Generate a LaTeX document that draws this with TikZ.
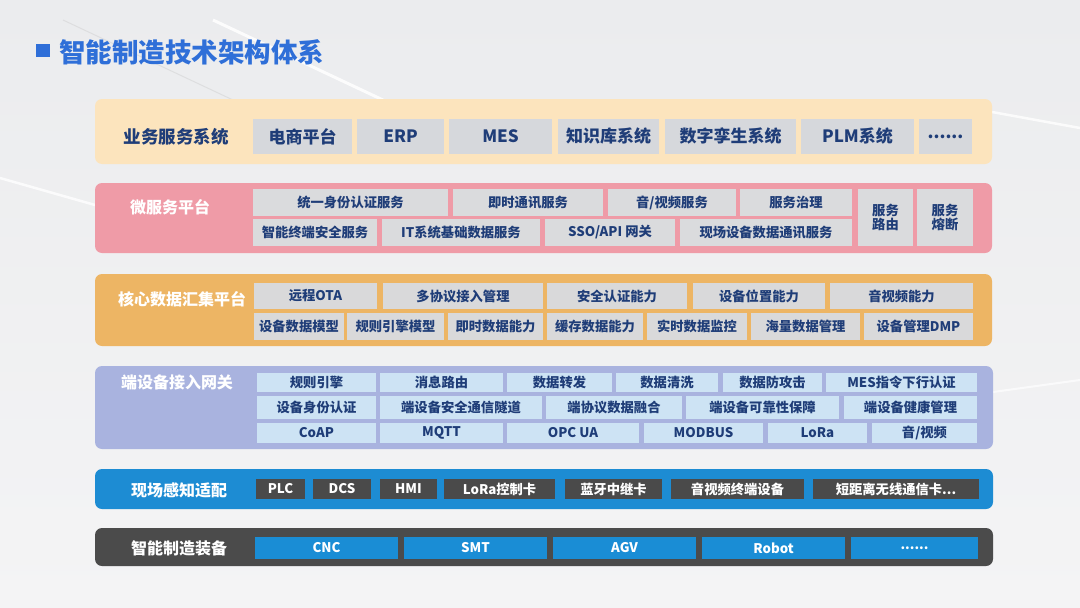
\documentclass[tikz,border=0pt]{standalone}
\usepackage{fontspec}
\setmainfont{Noto Sans CJK SC}
\definecolor{bgtop}{HTML}{EBECEE}
\definecolor{bgbot}{HTML}{F4F4F5}
\definecolor{titleblue}{HTML}{2F6FD8}
\definecolor{navy}{HTML}{1F3D78}
\definecolor{bandA}{HTML}{FCE4BD}
\definecolor{bandB}{HTML}{EF9BA7}
\definecolor{bandC}{HTML}{EDB564}
\definecolor{bandD}{HTML}{A9B3DF}
\definecolor{bandE}{HTML}{1D8CD3}
\definecolor{bandF}{HTML}{4B4B4B}
\definecolor{boxA}{HTML}{D6D8DC}
\definecolor{boxB}{HTML}{DADBDD}
\definecolor{boxC}{HTML}{D9D9DA}
\definecolor{boxD}{HTML}{CDE3F4}
\definecolor{boxE}{HTML}{4A4A4A}
\definecolor{boxF}{HTML}{1A8DD5}
\newcommand\bx[7]{\node[#1,minimum width={(#5-#3)*1pt},minimum height={(#6-#4)*1pt}] (#2) at ({(#3+#5)/2},{(#4+#6)/2}) {#7};}
\begin{document}
\begin{tikzpicture}[x=1pt,y=-1pt,
  band/.style={rounded corners=7pt,inner sep=0pt,outer sep=0pt},
  cell/.style={inner sep=0pt,outer sep=0pt,align=center,font=\bfseries\fontsize{13.3}{14}\selectfont},
  cellA/.style={cell,fill=boxA,text=navy,font=\bfseries\fontsize{17}{18}\selectfont},
  cellB/.style={cell,fill=boxB,text=navy},
  cellC/.style={cell,fill=boxC,text=navy},
  cellD/.style={cell,fill=boxD,text=navy},
  cellE/.style={cell,fill=boxE,text=white},
  cellF/.style={cell,fill=boxF,text=white},
  lab/.style={inner sep=0pt,font=\bfseries\fontsize{16}{17}\selectfont,text=white}]
\useasboundingbox (0,0) rectangle (1080,608);
\shade[top color=bgtop,bottom color=bgbot] (0,0) rectangle (1080,608);
\draw[white,line width=3pt,opacity=.85] (213,20) -- (383,100);
\draw[gray!40,line width=1pt,opacity=.45] (63,20) -- (233,100);
\draw[white,line width=2.5pt,opacity=.8] (0,178) -- (95,205);
\draw[white,line width=2.5pt,opacity=.8] (992,112) -- (1080,128);
\draw[white,line width=2pt,opacity=.7] (993,392) -- (1080,380);
% title
\fill[titleblue] (36,44) rectangle (50,57);
\node[anchor=west,inner sep=0pt,text=titleblue,font=\bfseries\fontsize{26.5}{27}\selectfont] (title) at (59,52) {智能制造技术架构体系};
% band 1
\bx{band,fill=bandA}{B1}{95}{99}{992}{164}{}
\node[lab,text=navy,font=\bfseries\fontsize{17.5}{18}\selectfont] (L1) at (176,137) {业务服务系统};
\bx{cellA}{a1}{253}{119}{352}{154}{电商平台}
\bx{cellA}{a2}{357}{119}{444}{154}{ERP}
\bx{cellA}{a3}{449}{119}{552}{154}{MES}
\bx{cellA}{a4}{558}{119}{659}{154}{知识库系统}
\bx{cellA}{a5}{665}{119}{796}{154}{数字孪生系统}
\bx{cellA}{a6}{801}{119}{914}{154}{PLM系统}
\bx{cellA}{a7}{919}{119}{972}{154}{......}
% band 2
\bx{band,fill=bandB}{B2}{95}{183}{992}{253}{}
\node[lab] (L2) at (170,207) {微服务平台};
\bx{cellB}{b1}{253}{189}{448}{216}{统一身份认证服务}
\bx{cellB}{b2}{453}{189}{603}{216}{即时通讯服务}
\bx{cellB}{b3}{608}{189}{736}{216}{音/视频服务}
\bx{cellB}{b4}{740}{189}{852}{216}{服务治理}
\bx{cellB}{b5}{253}{219}{377}{246}{智能终端安全服务}
\bx{cellB}{b6}{382}{219}{540}{246}{IT系统基础数据服务}
\bx{cellB}{b7}{545}{219}{675}{246}{SSO/API 网关}
\bx{cellB}{b8}{680}{219}{852}{246}{现场设备数据通讯服务}
\bx{cellB}{b9}{858}{189}{913}{246}{服务\\路由}
\bx{cellB}{b10}{917}{189}{973}{246}{服务\\熔断}
% band 3
\bx{band,fill=bandC}{B3}{95}{274}{992}{346}{}
\node[lab] (L3) at (182,299) {核心数据汇集平台};
\bx{cellC}{c1}{254}{283}{377}{309}{远程OTA}
\bx{cellC}{c2}{383}{283}{543}{309}{多协议接入管理}
\bx{cellC}{c3}{547}{283}{687}{309}{安全认证能力}
\bx{cellC}{c4}{693}{283}{825}{309}{设备位置能力}
\bx{cellC}{c5}{830}{283}{973}{309}{音视频能力}
\bx{cellC}{c6}{254}{313}{344}{340}{设备数据模型}
\bx{cellC}{c7}{347}{313}{444}{340}{规则引擎模型}
\bx{cellC}{c8}{448}{313}{543}{340}{即时数据能力}
\bx{cellC}{c9}{547}{313}{643}{340}{缓存数据能力}
\bx{cellC}{c10}{647}{313}{747}{340}{实时数据监控}
\bx{cellC}{c11}{751}{313}{860}{340}{海量数据管理}
\bx{cellC}{c12}{864}{313}{973}{340}{设备管理DMP}
% band 4
\bx{band,fill=bandD}{B4}{95}{366}{993}{449}{}
\node[lab] (L4) at (177,382) {端设备接入网关};
\bx{cellD}{d1}{257}{373}{376}{392}{规则引擎}
\bx{cellD}{d2}{380}{373}{503}{392}{消息路由}
\bx{cellD}{d3}{507}{373}{612}{392}{数据转发}
\bx{cellD}{d4}{616}{373}{718}{392}{数据清洗}
\bx{cellD}{d5}{723}{373}{822}{392}{数据防攻击}
\bx{cellD}{d6}{826}{373}{977}{392}{MES指令下行认证}
\bx{cellD}{d7}{257}{396}{376}{419}{设备身份认证}
\bx{cellD}{d8}{380}{396}{542}{419}{端设备安全通信隧道}
\bx{cellD}{d9}{546}{396}{682}{419}{端协议数据融合}
\bx{cellD}{d10}{686}{396}{839}{419}{端设备可靠性保障}
\bx{cellD}{d11}{844}{396}{977}{419}{端设备健康管理}
\bx{cellD}{d12}{257}{423}{376}{443}{CoAP}
\bx{cellD}{d13}{380}{423}{503}{443}{MQTT}
\bx{cellD}{d14}{507}{423}{639}{443}{OPC UA}
\bx{cellD}{d15}{644}{423}{763}{443}{MODBUS}
\bx{cellD}{d16}{768}{423}{867}{443}{LoRa}
\bx{cellD}{d17}{872}{423}{977}{443}{音/视频}
% band 5
\bx{band,fill=bandE}{B5}{95}{469}{993}{509}{}
\node[lab] (L5) at (179,490) {现场感知适配};
\bx{cellE}{e1}{256}{479}{305}{499}{PLC}
\bx{cellE}{e2}{313}{479}{371}{499}{DCS}
\bx{cellE}{e3}{380}{479}{437}{499}{HMI}
\bx{cellE}{e4}{444}{479}{555}{499}{LoRa控制卡}
\bx{cellE}{e5}{565}{479}{662}{499}{蓝牙中继卡}
\bx{cellE}{e6}{671}{479}{804}{499}{音视频终端设备}
\bx{cellE}{e7}{813}{479}{979}{499}{短距离无线通信卡...}
% band 6
\bx{band,fill=bandF}{B6}{95}{528}{993}{566}{}
\node[lab] (L6) at (179,548) {智能制造装备};
\bx{cellF}{f1}{255}{537}{398}{559}{CNC}
\bx{cellF}{f2}{404}{537}{547}{559}{SMT}
\bx{cellF}{f3}{553}{537}{696}{559}{AGV}
\bx{cellF}{f4}{702}{537}{845}{559}{Robot}
\bx{cellF}{f5}{851}{537}{978}{559}{......}
\end{tikzpicture}
\end{document}
